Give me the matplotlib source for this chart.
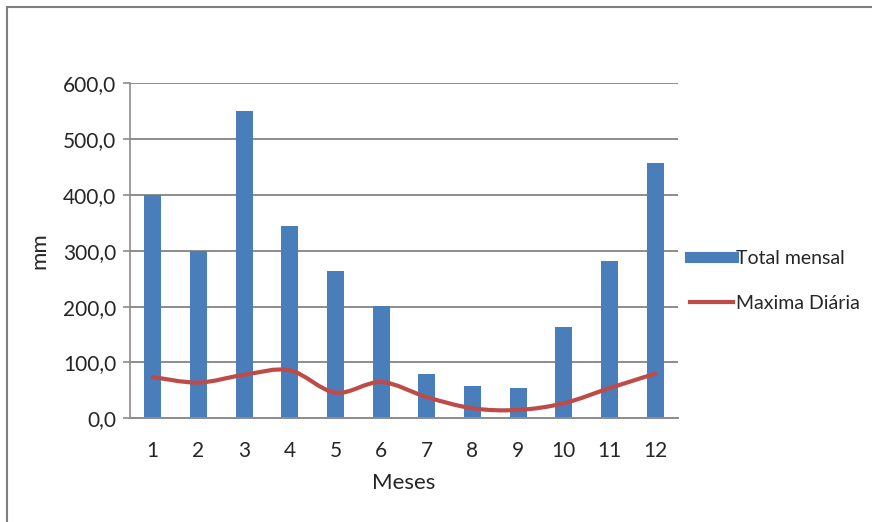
import matplotlib
matplotlib.use("Agg")
import matplotlib.pyplot as plt
from matplotlib.path import Path
from matplotlib.patches import PathPatch, Rectangle
from matplotlib.lines import Line2D
import numpy as np

meses = [1, 2, 3, 4, 5, 6, 7, 8, 9, 10, 11, 12]
total_mensal = [400, 300, 551, 344, 264, 201, 80, 58, 55, 163, 281, 457]
maxima_diaria = [74, 64, 78, 86, 46, 65, 38, 18, 15, 27, 54, 80]
yticks = [0, 100, 200, 300, 400, 500, 600]

BLUE = "#4a7ebb"
RED = "#be4b48"
GRID = "#8c8c8c"
TXT = "#262626"

plt.rcParams["font.family"] = ["Lato", "DejaVu Sans"]

fig = plt.figure(figsize=(8.72, 5.22), dpi=100)
ax = fig.add_axes([0.149, 0.1986, 0.6285, 0.6418])

x = np.arange(len(meses))
ax.bar(x, total_mensal, width=0.37, color=BLUE, zorder=2)


def smooth_path(xs, ys, t=1 / 6):
    # excel-like smoothed line: catmull-rom segments as cubic beziers
    pts = np.column_stack([xs, ys]).astype(float)
    verts = [pts[0]]
    codes = [Path.MOVETO]
    n = len(pts)
    for i in range(n - 1):
        p0 = pts[i - 1] if i > 0 else pts[i]
        p1, p2 = pts[i], pts[i + 1]
        p3 = pts[i + 2] if i + 2 < n else pts[i + 1]
        c1 = p1 + (p2 - p0) * t
        c2 = p2 - (p3 - p1) * t
        verts += [c1, c2, p2]
        codes += [Path.CURVE4] * 3
    return Path(verts, codes)


ax.add_patch(PathPatch(smooth_path(x, maxima_diaria), facecolor="none",
                       edgecolor=RED, lw=3, zorder=3, capstyle="round",
                       joinstyle="round"))

ax.set_xlim(-0.5, len(meses) - 0.5)
ax.set_ylim(0, 600)
ax.set_yticks(yticks)
ax.set_yticklabels([f"{v},0" for v in yticks], fontsize=15, color=TXT)
ax.set_xticks(x)
ax.set_xticklabels([str(m) for m in meses], fontsize=15, color=TXT)
ax.tick_params(axis="x", length=0, pad=16)
ax.tick_params(axis="y", length=5, color=GRID, width=1.2, pad=5)
ax.grid(axis="y", color=GRID, lw=1.4, zorder=0)
ax.set_axisbelow(True)
for side in ["top", "right"]:
    ax.spines[side].set_visible(False)
ax.spines["left"].set_color(GRID)
ax.spines["left"].set_linewidth(1.2)
ax.spines["bottom"].set_color(GRID)
ax.spines["bottom"].set_linewidth(1.4)

ax.set_xlabel("Meses", fontsize=16, color=TXT, labelpad=9)
ax.set_ylabel("mm", fontsize=16, color=TXT, labelpad=10)

handles = [Line2D([0], [0], color=BLUE, lw=8),
           Line2D([0], [0], color=RED, lw=3)]
fig.legend(handles, ["Total mensal", "Maxima Diária"], loc="center left",
           bbox_to_anchor=(0.791, 0.462), frameon=False, fontsize=14,
           handlelength=2.2, handletextpad=0.2, labelspacing=1.45,
           labelcolor=TXT, borderaxespad=0, borderpad=0)

# outer chart border
fig.add_artist(Rectangle((7 / 872, -0.1), 1.2, 1.1 - 7 / 522,
                         transform=fig.transFigure, fill=False,
                         edgecolor="#7f7f7f", lw=1.5))

fig.savefig("out.png", dpi=100)
